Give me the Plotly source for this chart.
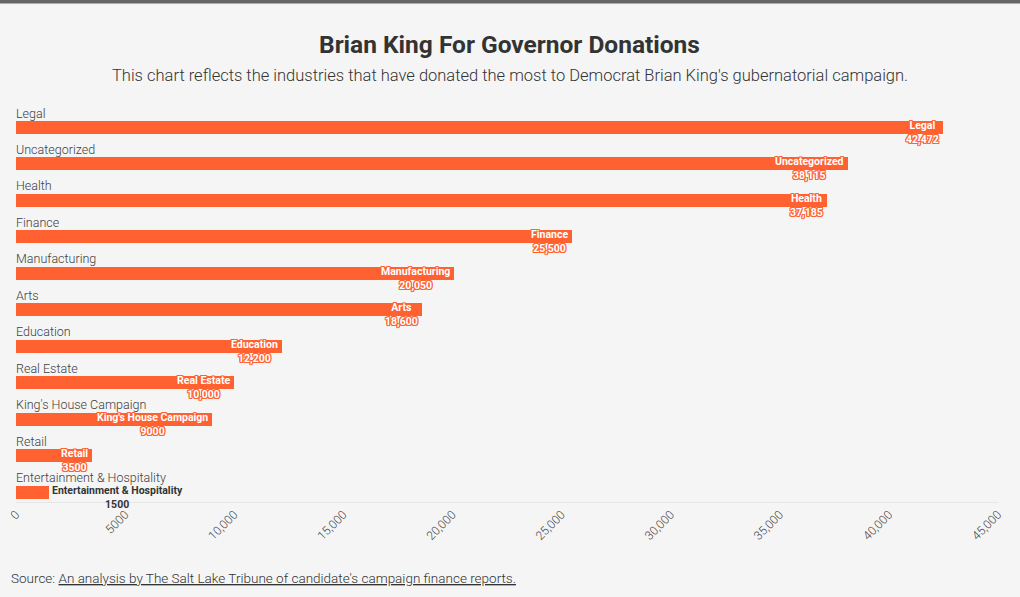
import plotly.graph_objects as go

categories = ["Legal", "Uncategorized", "Health", "Finance", "Manufacturing", "Arts",
              "Education", "Real Estate", "King's House Campaign", "Retail",
              "Entertainment & Hospitality"]
donations = [42472, 38115, 37185, 25500, 20050, 18600, 12200, 10000, 9000, 3500, 1500]
value_labels = ["42,472", "38,115", "37,185", "25,500", "20,050", "18,600", "12,200",
                "10,000", "9000", "3500", "1500"]
tick_vals = [0, 5000, 10000, 15000, 20000, 25000, 30000, 35000, 40000, 45000]
tick_text = ["0", "5000", "10,000", "15,000", "20,000", "25,000", "30,000", "35,000",
             "40,000", "45,000"]

BAR = "#ff6130"
BG = "#f5f5f5"
FONT = "Roboto"
ROW_PX = 36.45
positions = list(range(len(categories)))

fig = go.Figure()
fig.add_trace(go.Bar(
    x=donations, y=positions, orientation="h",
    marker=dict(color=BAR, line=dict(width=0)),
    width=13 / ROW_PX, hoverinfo="skip", showlegend=False,
))

ann = []
shadow = ", ".join(f"{dx}px {dy}px 0 {BAR}" for dx in (-1, 0, 1) for dy in (-1, 0, 1) if dx or dy)
for i, (cat, val, lab) in enumerate(zip(categories, donations, value_labels)):
    ann.append(dict(x=0, y=i - 14.5 / ROW_PX, xref="x", yref="y", text=cat,
                    showarrow=False, xanchor="left", yanchor="middle", xshift=-2,
                    font=dict(family=FONT, size=12.5, color="#404040", weight=300)))
    if val > 3000:
        ann.append(dict(x=val, y=i + 5.0 / ROW_PX, xref="x", yref="y",
                        text=f"<b>{cat}</b><br><b>{lab}</b>", align="center",
                        showarrow=False, xanchor="right", yanchor="middle", xshift=-2,
                        font=dict(family=FONT, size=10.5, color="white", shadow=shadow)))
    else:
        ann.append(dict(x=val, y=i + 5.0 / ROW_PX, xref="x", yref="y",
                        text=f"<b>{cat}</b><br><b>{lab}</b>", align="center",
                        showarrow=False, xanchor="left", yanchor="middle", xshift=1,
                        font=dict(family=FONT, size=10.5, color="#333333")))

ann.append(dict(x=0.503, y=1 + (104 - 45) / 398, xref="paper", yref="paper",
                text="<b>Brian King For Governor Donations</b>", showarrow=False,
                xanchor="center", yanchor="middle",
                font=dict(family=FONT, size=24.5, color="#333333")))
ann.append(dict(x=0.503, y=1 + (104 - 76) / 398, xref="paper", yref="paper",
                text="This chart reflects the industries that have donated the most to Democrat Brian King's gubernatorial campaign.",
                showarrow=False, xanchor="center", yanchor="middle",
                font=dict(family=FONT, size=16.5, color="#333333", weight=300)))
ann.append(dict(x=0, y=-(578 - 502) / 398, xref="paper", yref="paper", xshift=-7,
                text="Source: <u>An analysis by The Salt Lake Tribune of candidate's campaign finance reports.</u>",
                showarrow=False, xanchor="left", yanchor="middle",
                font=dict(family=FONT, size=13.5, color="#333333", weight=300)))

fig.update_layout(
    width=1020, height=597,
    paper_bgcolor=BG, plot_bgcolor=BG,
    margin=dict(l=16, r=22, t=104, b=95),
    bargap=0,
    xaxis=dict(range=[0, 45000], tickvals=tick_vals, ticktext=tick_text,
               tickangle=-45, showgrid=False, zeroline=False,
               showline=True, linecolor="#e6e6e6", linewidth=1,
               tickfont=dict(family=FONT, size=12, color="#444444", weight=300),
               ticks="", fixedrange=True, automargin=False),
    yaxis=dict(range=[-0.645 + 398 / ROW_PX, -0.645], visible=False, fixedrange=True),
    annotations=ann,
    shapes=[dict(type="rect", xref="paper", yref="paper",
                 x0=-16 / 982, x1=1 + 22 / 982,
                 y0=1 + 100.5 / 398, y1=1 + 104 / 398,
                 fillcolor="#666666", line=dict(width=0), layer="above")],
)

fig.write_html("out.html", config={"displayModeBar": False},
               post_script="document.body.style.margin='0';document.body.style.overflow='hidden';")
